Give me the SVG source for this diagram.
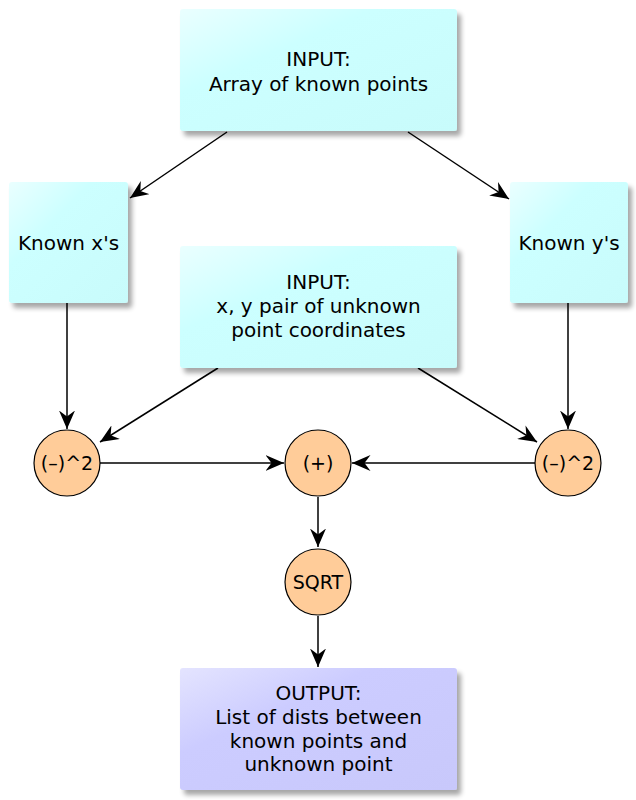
<svg xmlns="http://www.w3.org/2000/svg" width="636" height="800" viewBox="0 0 636 800">
<defs>
  <linearGradient id="gCyan" x1="0" y1="0" x2="1" y2="1">
    <stop offset="0" stop-color="#eaffff"/>
    <stop offset="0.35" stop-color="#ccffff"/>
    <stop offset="1" stop-color="#c8fbfb"/>
  </linearGradient>
  <linearGradient id="gBlue" x1="0" y1="0" x2="1" y2="1">
    <stop offset="0" stop-color="#e4e4ff"/>
    <stop offset="0.35" stop-color="#ccccff"/>
    <stop offset="1" stop-color="#c8c8fb"/>
  </linearGradient>
  <filter id="shadow" x="-20%" y="-20%" width="140%" height="140%">
    <feGaussianBlur in="SourceAlpha" stdDeviation="2.5"/>
    <feOffset dx="4" dy="5" result="b"/>
    <feComponentTransfer><feFuncA type="linear" slope="0.35"/></feComponentTransfer>
    <feMerge><feMergeNode/><feMergeNode in="SourceGraphic"/></feMerge>
  </filter>
  <marker id="arrow" viewBox="0 0 19 16" refX="18.5" refY="8" markerWidth="19" markerHeight="16" markerUnits="userSpaceOnUse" orient="auto">
    <path d="M0,0 L18.5,8 L0,16 L6,8 Z" fill="#000"/>
  </marker>
</defs>
<style>
  .box { fill: url(#gCyan); filter: url(#shadow); }
  .out { fill: url(#gBlue); filter: url(#shadow); }
  .circ { fill: #ffcc99; stroke: #000; stroke-width: 1.2; }
  .t { font-family: "DejaVu Sans", "Noto Sans", sans-serif; font-size: 20px; fill: #000; text-anchor: middle; }
  .tc { font-family: "DejaVu Sans", "Noto Sans", sans-serif; font-size: 19px; fill: #000; text-anchor: middle; }
  .edge { stroke: #000; stroke-width: 1.5; fill: none; marker-end: url(#arrow); }
</style>

<g id="connectors">
  <line class="edge" x1="227" y1="132" x2="130" y2="198"/>
  <line class="edge" x1="408" y1="132" x2="509" y2="199"/>
  <line class="edge" x1="67" y1="303" x2="67" y2="429"/>
  <line class="edge" x1="218" y1="368" x2="100" y2="442"/>
  <line class="edge" x1="418" y1="368" x2="537" y2="442"/>
  <line class="edge" x1="568" y1="303" x2="568" y2="429"/>
  <line class="edge" x1="100" y1="463" x2="284" y2="463"/>
  <line class="edge" x1="535" y1="463" x2="352" y2="463"/>
  <line class="edge" x1="318" y1="497" x2="318" y2="547"/>
  <line class="edge" x1="318" y1="616" x2="318" y2="667"/>
</g>

<g id="input-array">
  <rect class="box" x="180" y="9" width="277" height="122" rx="3"/>
  <text class="t" x="318.5" y="66">INPUT:</text>
  <text class="t" x="318.5" y="91">Array of known points</text>
</g>

<g id="known-x">
  <rect class="box" x="9" y="182" width="119" height="121" rx="3"/>
  <text class="t" x="68.5" y="250">Known x's</text>
</g>

<g id="known-y">
  <rect class="box" x="510" y="182" width="118" height="121" rx="3"/>
  <text class="t" x="569" y="250">Known y's</text>
</g>

<g id="input-pair">
  <rect class="box" x="180" y="246" width="277" height="122" rx="3"/>
  <text class="t" x="318.5" y="289">INPUT:</text>
  <text class="t" x="318.5" y="313">x, y pair of unknown</text>
  <text class="t" x="318.5" y="337">point coordinates</text>
</g>

<g id="sq-left">
  <circle class="circ" cx="67" cy="463" r="33"/>
  <text class="tc" x="67" y="470">(–)^2</text>
</g>

<g id="plus">
  <circle class="circ" cx="318" cy="463" r="33"/>
  <text class="tc" x="318" y="470">(+)</text>
</g>

<g id="sq-right">
  <circle class="circ" cx="568" cy="463" r="33"/>
  <text class="tc" x="568" y="470">(–)^2</text>
</g>

<g id="sqrt">
  <circle class="circ" cx="318" cy="582" r="33"/>
  <text class="tc" x="318" y="589">SQRT</text>
</g>

<g id="output">
  <rect class="out" x="180" y="668" width="277" height="122" rx="3"/>
  <text class="t" x="318.5" y="700">OUTPUT:</text>
  <text class="t" x="318.5" y="724">List of dists between</text>
  <text class="t" x="318.5" y="748">known points and</text>
  <text class="t" x="318.5" y="771">unknown point</text>
</g>
</svg>
